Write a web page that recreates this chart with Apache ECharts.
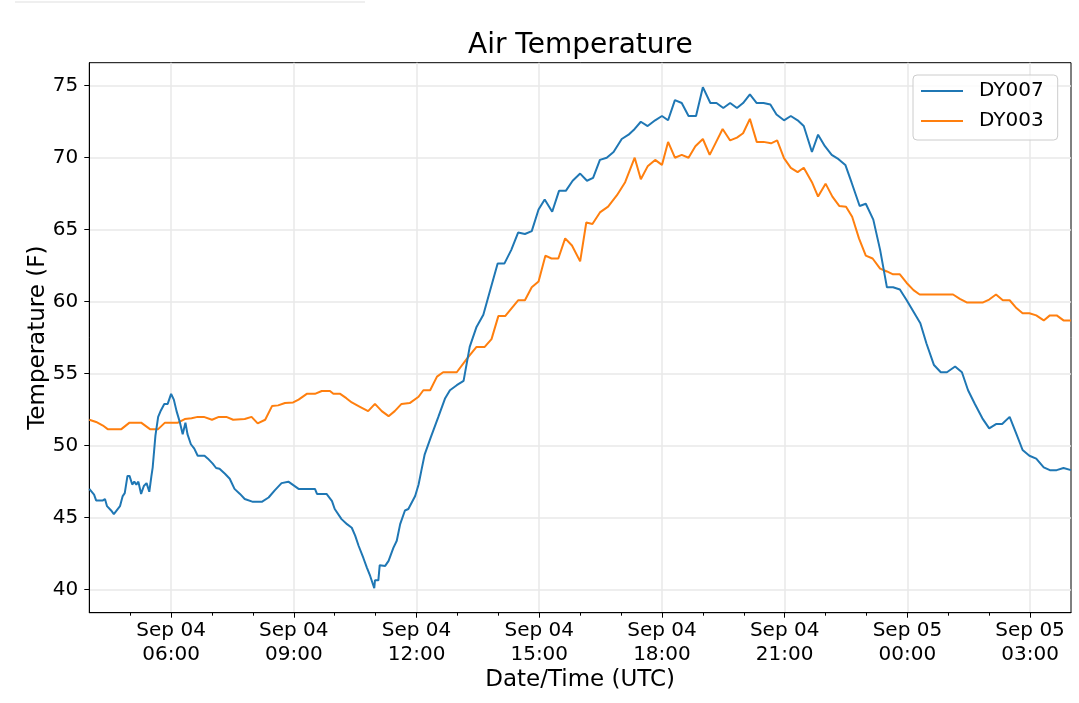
<!DOCTYPE html>
<html><head><meta charset="utf-8">
<script src="https://cdn.jsdelivr.net/npm/echarts@6/dist/echarts.min.js"></script>
<style>html,body{margin:0;padding:0;background:#fff}#c{width:1079px;height:703px}</style>
</head><body><div id="c"></div>
<script>
const chartTitle = 'Air Temperature';
const xAxisTitle = 'Date/Time (UTC)';
const yAxisTitle = 'Temperature (F)';
const seriesNames = ['DY007', 'DY003'];
const seriesColors = ['#1f77b4', '#ff7f0e'];
// x values: minutes after Sep 04 04:00 UTC; axis spans Sep 04 04:00 -> Sep 05 04:00
const xStartMin = 0, xEndMin = 1440;

// DY007: minutes after Sep 04 04:00 UTC, temperature (F)
const dy007Minutes = [0,7,10,20,23,26,32,36,45,49,52,56,59,63,66,69,72,76,80,84,88,91,93,97,101,105,110,115,120,124,128,133,137,141,144,149,154,159,169,174,181,186,191,199,206,213,221,228,240,253,263,272,282,292,307,331,334,348,356,360,370,378,385,390,395,402,407,412,418,419,424,426,434,439,446,451,456,463,468,478,483,487,492,501,512,522,529,539,549,558,568,578,588,599,609,619,629,639,649,659,668,679,689,699,709,720,730,739,749,759,769,781,791,800,809,819,830,840,849,859,869,879,890,900,911,920,930,940,950,959,969,979,989,999,1008,1019,1029,1039,1048,1060,1069,1079,1089,1099,1109,1118,1130,1139,1150,1160,1170,1179,1189,1199,1209,1219,1228,1239,1249,1258,1270,1280,1289,1299,1310,1320,1330,1339,1350,1360,1369,1379,1389,1400,1409,1419,1429,1440];
const dy007Values = [47.0,46.6,46.2,46.2,46.3,45.8,45.5,45.25,45.8,46.5,46.7,47.9,47.9,47.3,47.5,47.3,47.5,46.65,47.2,47.4,46.8,47.85,48.5,50.7,52.0,52.45,52.9,52.9,53.6,53.2,52.4,51.6,50.8,51.6,50.8,50.1,49.8,49.3,49.3,49.1,48.75,48.45,48.4,48.05,47.7,47.0,46.65,46.3,46.1,46.1,46.4,46.9,47.4,47.5,47.0,47.0,46.65,46.65,46.15,45.6,44.9,44.55,44.3,43.75,43.05,42.2,41.55,40.95,40.1,40.65,40.65,41.7,41.65,42.0,42.9,43.4,44.55,45.5,45.6,46.5,47.3,48.25,49.4,50.6,52.0,53.3,53.85,54.2,54.5,56.86,58.25,59.1,60.8,62.66,62.66,63.6,64.8,64.7,64.9,66.4,67.1,66.25,67.7,67.7,68.4,68.9,68.4,68.6,69.85,70.0,70.4,71.3,71.6,72.0,72.5,72.2,72.6,72.9,72.6,74.0,73.8,72.9,72.9,74.9,73.8,73.8,73.45,73.8,73.45,73.8,74.4,73.8,73.8,73.7,73.0,72.6,72.9,72.6,72.2,70.4,71.6,70.8,70.2,69.9,69.5,68.3,66.65,66.8,65.7,63.6,61.0,61.0,60.85,60.1,59.3,58.5,57.1,55.6,55.1,55.1,55.5,55.1,53.85,52.9,51.9,51.2,51.5,51.5,52.0,50.8,49.7,49.3,49.1,48.5,48.3,48.3,48.45,48.3];

// DY003: minutes after Sep 04 04:00 UTC, temperature (F)
const dy003Minutes = [0,10,20,27,47,59,76,89,101,111,130,140,150,159,168,180,190,201,211,228,238,247,258,268,277,287,299,307,319,331,341,353,358,368,377,385,397,409,419,429,439,448,458,470,483,490,500,510,519,539,554,568,580,590,600,610,629,639,649,659,669,678,688,698,708,720,729,738,749,761,774,786,800,809,819,830,840,849,859,869,879,889,900,910,919,929,940,950,959,969,979,989,1000,1009,1019,1029,1039,1048,1060,1069,1080,1090,1100,1110,1119,1129,1139,1149,1160,1170,1179,1189,1199,1209,1218,1267,1277,1287,1311,1320,1330,1340,1350,1359,1369,1379,1389,1400,1409,1419,1429,1440];
const dy003Values = [51.8,51.65,51.4,51.15,51.15,51.6,51.6,51.15,51.15,51.6,51.6,51.85,51.9,52.0,52.0,51.8,52.0,52.0,51.8,51.85,52.0,51.55,51.8,52.75,52.8,52.96,53.0,53.2,53.6,53.6,53.8,53.8,53.6,53.6,53.3,53.0,52.7,52.4,52.9,52.4,52.05,52.4,52.9,52.96,53.4,53.85,53.85,54.8,55.1,55.1,56.05,56.86,56.86,57.4,59.0,59.0,60.1,60.1,61.0,61.4,63.2,63.0,63.0,64.4,63.9,62.8,65.5,65.4,66.2,66.6,67.4,68.3,70.0,68.5,69.4,69.85,69.5,71.1,70.0,70.2,70.0,70.8,71.3,70.2,71.05,72.0,71.2,71.4,71.7,72.7,71.1,71.1,71.0,71.2,69.97,69.3,69.0,69.3,68.3,67.3,68.2,67.3,66.65,66.6,65.9,64.4,63.2,63.0,62.3,62.1,61.9,61.9,61.3,60.8,60.5,60.5,60.2,59.95,59.95,60.15,60.5,60.1,60.1,59.6,59.2,59.2,59.05,58.7,59.05,59.05,58.7,58.7];

// x tick positions (minutes after Sep 04 04:00 UTC) and labels
const xTickMinutes = [120, 300, 480, 660, 840, 1020, 1200, 1380];
const xTickLabels = ['Sep 04\n06:00','Sep 04\n09:00','Sep 04\n12:00','Sep 04\n15:00','Sep 04\n18:00','Sep 04\n21:00','Sep 05\n00:00','Sep 05\n03:00'];
const xMinorTickMinutes = [60, 180, 240, 360, 420, 540, 600, 720, 780, 900, 960, 1080, 1140, 1260, 1320];
// y ticks
const yTickValues = [40, 45, 50, 55, 60, 65, 70, 75];
const yMin = 38.4, yMax = 76.6;

const labelMap = {};
xTickMinutes.forEach((m, i) => { labelMap[m] = xTickLabels[i]; });
function toPairs(mins, vals) { return mins.map((m, i) => [m, vals[i]]); }

const FONT = 'DejaVu Sans';
const chart = echarts.init(document.getElementById('c'), null, { renderer: 'canvas' });
chart.setOption({
  animation: false,
  backgroundColor: '#fff',
  textStyle: { fontFamily: FONT },
  title: {
    text: chartTitle, left: 468, top: 32, padding: 0,
    textStyle: { fontFamily: FONT, fontSize: 28, fontWeight: 'normal', color: '#000' }
  },
  graphic: [{
    type: 'line', shape: { x1: 15, y1: 2, x2: 365, y2: 2 },
    style: { stroke: '#efefef', lineWidth: 2 }, silent: true
  }],
  legend: {
    orient: 'vertical', left: 913, top: 75,
    padding: [6, 14, 9, 8], itemGap: 10, itemWidth: 42, itemHeight: 2,
    icon: 'path://M0,0L42,0L42,2L0,2Z',
    backgroundColor: 'rgba(255,255,255,0.8)', borderColor: '#cccccc', borderWidth: 1, borderRadius: 4,
    textStyle: { fontFamily: FONT, fontSize: 20, color: '#000', lineHeight: 20, padding: [0, 0, 0, 11] },
    data: seriesNames
  },
  grid: {
    left: 89.3, right: 8, top: 62.7, bottom: 90.3,
    show: true, borderColor: '#000', borderWidth: 1, backgroundColor: 'transparent'
  },
  xAxis: [{
    type: 'value', min: xStartMin, max: xEndMin,
    name: xAxisTitle, nameLocation: 'middle', nameGap: 56, nameMoveOverlap: false,
    nameTextStyle: { fontFamily: FONT, fontSize: 23, color: '#000' },
    axisLine: { show: true, lineStyle: { color: '#000', width: 1 } },
    axisTick: { show: true, length: 5, customValues: xTickMinutes, lineStyle: { color: '#000', width: 1 } },
    axisLabel: {
      show: true, margin: 6, fontFamily: FONT, fontSize: 20, color: '#000', lineHeight: 24,
      customValues: xTickMinutes, hideOverlap: false,
      formatter: function (v) { return labelMap[Math.round(v)] || ''; }
    },
    splitLine: { show: true, lineStyle: { color: '#e9e9e9', width: 1.5 } }
  }, {
    type: 'value', position: 'bottom', min: xStartMin, max: xEndMin,
    axisLine: { show: false }, axisLabel: { show: false }, splitLine: { show: false },
    axisTick: { show: true, length: 3, customValues: xMinorTickMinutes, lineStyle: { color: '#000', width: 1 } }
  }],
  yAxis: {
    type: 'value', min: yMin, max: yMax,
    name: yAxisTitle, nameLocation: 'middle', nameGap: 40, nameRotate: 90, nameMoveOverlap: false,
    nameTextStyle: { fontFamily: FONT, fontSize: 23, color: '#000' },
    axisLine: { show: true, lineStyle: { color: '#000', width: 1 } },
    axisTick: { show: true, length: 5, customValues: yTickValues, lineStyle: { color: '#000', width: 1 } },
    axisLabel: {
      margin: 11, fontFamily: FONT, fontSize: 20, color: '#000',
      customValues: yTickValues,
      formatter: function (v) { return String(Math.round(v)); }
    },
    splitLine: { show: true, lineStyle: { color: '#e9e9e9', width: 1.5 } }
  },
  series: [{
    name: seriesNames[0], type: 'line', xAxisIndex: 0, data: toPairs(dy007Minutes, dy007Values),
    showSymbol: false, symbol: 'none', lineStyle: { color: seriesColors[0], width: 2 },
    itemStyle: { color: seriesColors[0] }, z: 3
  }, {
    name: seriesNames[1], type: 'line', xAxisIndex: 0, data: toPairs(dy003Minutes, dy003Values),
    showSymbol: false, symbol: 'none', lineStyle: { color: seriesColors[1], width: 2 },
    itemStyle: { color: seriesColors[1] }, z: 2
  }]
});
</script>
</body></html>
